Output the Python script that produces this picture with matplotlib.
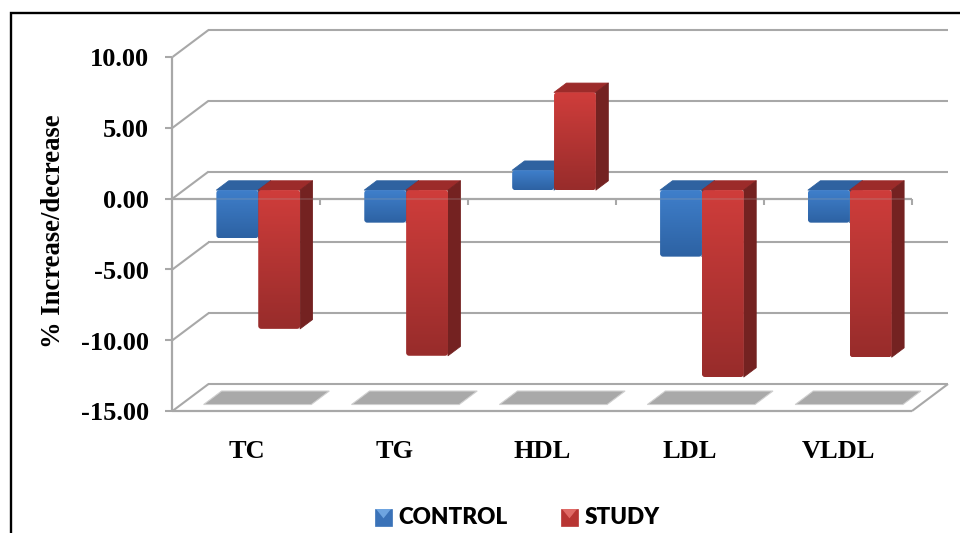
import numpy as np
import matplotlib
matplotlib.use("Agg")
import matplotlib.pyplot as plt
from matplotlib.patches import Polygon, FancyBboxPatch

categories = ["TC", "TG", "HDL", "LDL", "VLDL"]
control = [-3.4, -2.3, 1.4, -4.7, -2.3]
study = [-9.8, -11.7, 6.9, -13.2, -11.8]
y_ticks = [10, 5, 0, -5, -10, -15]
series_names = ["CONTROL", "STUDY"]

W, H = 960, 533
X0, X1 = 172.5, 912.0      # pixel extent of the category axis
Y10, Y_15 = 57.0, 411.0    # pixel position of values 10 and -15
DX_PX, DY_PX = 36.0, 27.0  # oblique depth offset

fig = plt.figure(figsize=(W / 100, H / 100), dpi=100, facecolor="white")
ax = fig.add_axes([0, 0, 1, 1])
cat_px = (X1 - X0) / len(categories)
val_px = (Y_15 - Y10) / 25.0
ax.set_xlim(-X0 / cat_px, (W - X0) / cat_px)
ax.set_ylim(-15 - (H - Y_15) / val_px, -15 + Y_15 / val_px)
ax.axis("off")
DX, DY = DX_PX / cat_px, DY_PX / val_px
GRID = "#a8a8a8"
SERIF = "Liberation Serif"


def proj(x, v, d=0.0):
    return (x + d * DX, v + d * DY)


def line(a, b, color=GRID, lw=1.5, z=1, alpha=None):
    ax.plot([a[0], b[0]], [a[1], b[1]], color=color, lw=lw, zorder=z, solid_capstyle="butt", alpha=alpha)


def gradient_rect(x0, x1, y0, y1, top, bot, z):
    """Front face: vertical gradient clipped to a slightly rounded rectangle."""
    cmap = matplotlib.colors.LinearSegmentedColormap.from_list("g", [top, bot])
    im = ax.imshow(np.linspace(0, 1, 64).reshape(-1, 1), cmap=cmap, aspect="auto", origin="upper",
                   extent=[x0, x1, y0, y1], zorder=z, interpolation="bilinear")
    r = 3 / cat_px
    clip = FancyBboxPatch((x0, y0), x1 - x0, y1 - y0, boxstyle=f"round,pad=0,rounding_size={r}",
                          mutation_aspect=cat_px / val_px, transform=ax.transData)
    im.set_clip_path(clip)


# walls and floor
n = len(categories)
for v in y_ticks:
    line(proj(0, v), proj(0, v, 1))
    line(proj(0, v, 1), proj(n, v, 1))
    line((-7 / cat_px, v), proj(0, v))
line(proj(0, -15), proj(0, 10), lw=1.6)
line(proj(0, -15), proj(n, -15), lw=1.6)
line(proj(n, -15), proj(n, -15, 1))
line(proj(0, 0), proj(n, 0), lw=1.6, z=5)
for i in range(1, n + 1):
    line(proj(i, 0), (i, -6 / val_px))

# floor shadows
for i in range(n):
    s0, s1, d0, d1 = i + 0.152, i + 0.88, 0.24, 0.74
    ax.add_patch(Polygon([proj(s0, -15, d0), proj(s1, -15, d0), proj(s1, -15, d1), proj(s0, -15, d1)],
                         closed=True, fc="#a9a9a9", ec="#d0d0d0", lw=0.8, zorder=2))

# bars
BAR = 0.283
D0, D1 = 0.315, 0.66
palette = {
    "control": dict(front=("#3f7fcb", "#2d62a3"), top="#2f62a0", side="#1f4a80", swatch="#3a72b8", light="#6ea4e0"),
    "study": dict(front=("#cf3d3b", "#982c2b"), top="#9c2b2a", side="#742221", swatch="#b83533", light="#e06a66"),
}


def bar(x, v, colors, z):
    lo, hi = min(v, 0), max(v, 0)
    x2 = x + BAR
    ax.add_patch(Polygon([proj(x, hi, D0), proj(x2, hi, D0), proj(x2, hi, D1), proj(x, hi, D1)],
                         closed=True, fc=colors["top"], ec=colors["top"], lw=0.6, joinstyle="round", zorder=z))
    ax.add_patch(Polygon([proj(x2, lo, D0), proj(x2, hi, D0), proj(x2, hi, D1), proj(x2, lo, D1)],
                         closed=True, fc=colors["side"], ec=colors["side"], lw=0.6, joinstyle="round", zorder=z))
    fx0, fy0 = proj(x, lo, D0)
    fx1, fy1 = proj(x2, hi, D0)
    gradient_rect(fx0, fx1, fy0, fy1, colors["front"][0], colors["front"][1], z + 0.1)


for i in range(n):
    left = i + 0.5 - BAR + 0.003
    bar(left, control[i], palette["control"], 6 + i)
    bar(left + BAR, study[i], palette["study"], 6.5 + i)

# the category axis shows faintly through the bars
line(proj(0, 0), proj(n, 0), lw=1.4, z=15, alpha=0.22)

# tick labels
TICK_FS = 19
for v in y_ticks:
    ax.text((149 - X0) / cat_px, v - 3 / val_px, f"{v:.2f}", ha="right", va="center", fontsize=TICK_FS,
            family=SERIF, weight="bold", color="black", zorder=20)
for i, c in enumerate(categories):
    ax.text(i + 0.5, -15 - 41 / val_px, c, ha="center", va="center", fontsize=TICK_FS,
            family=SERIF, weight="bold", color="black", zorder=20)
ax.text((53.5 - X0) / cat_px, -15 + (411 - 231) / val_px, "% Increase/decrease", rotation=90,
        ha="center", va="center", fontsize=19.2, family=SERIF, weight="bold", color="black", zorder=20)


# legend (axes-fraction coordinates, y measured from the bottom)
def lx(px):
    return px / W


def ly(py):
    return 1 - py / H


for name, sx, tx, key in [(series_names[0], 375, 398, "control"), (series_names[1], 561, 585, "study")]:
    p = palette[key]
    sy, s = 509, 17
    ax.add_patch(Polygon([(lx(sx), ly(sy)), (lx(sx + s), ly(sy)), (lx(sx + s), ly(sy + s)), (lx(sx), ly(sy + s))],
                         closed=True, fc=p["swatch"], ec=p["swatch"], lw=0.5, transform=ax.transAxes, zorder=20))
    ax.add_patch(Polygon([(lx(sx + 1), ly(sy)), (lx(sx + s - 1), ly(sy)), (lx(sx + s / 2), ly(sy + s * 0.55))],
                         closed=True, fc=p["light"], ec="none", transform=ax.transAxes, zorder=21))
    ax.text(lx(tx), ly(518), name, transform=ax.transAxes, ha="left", va="center", fontsize=16.2,
            family="Lato", weight="heavy", color="black", zorder=20)

# outer frame
ax.plot([lx(11), lx(11), lx(960)], [ly(533), ly(13), ly(13)], transform=ax.transAxes, color="black", lw=1.7,
        zorder=30, solid_joinstyle="miter")

fig.savefig("out.png", dpi=100)
